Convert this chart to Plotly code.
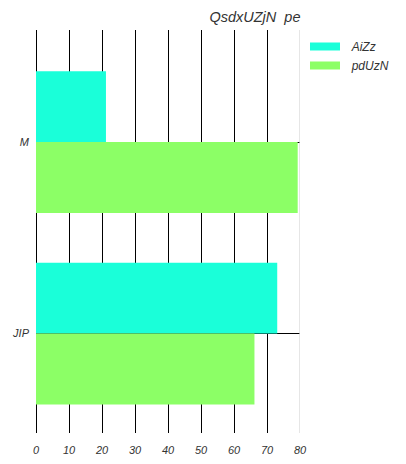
import plotly.graph_objects as go

categories = ["M", "JIP"]
series_names = ["AiZz", "pdUzN"]
aizz_values = [21.2, 73.1]
pduzn_values = [79.3, 66.2]
colors = ["#1affd9", "#8cff66"]
x_ticks = [0, 10, 20, 30, 40, 50, 60, 70, 80]
title_text = "QsdxUZjN\u00a0\u00a0pe"

font_family = "Liberation Sans, Arial, sans-serif"

fig = go.Figure()
for name, vals, col in zip(series_names, [aizz_values, pduzn_values], colors):
    fig.add_trace(go.Bar(
        y=categories, x=vals, name=name, orientation="h",
        marker=dict(color=col, line=dict(width=0)),
        showlegend=False,
    ))
# legend swatches
for name, col in zip(series_names, colors):
    fig.add_trace(go.Scatter(
        x=[None], y=[None], mode="lines", name="\u00a0\u00a0" + name,
        line=dict(color=col, width=8),
    ))

fig.update_layout(
    width=406, height=464,
    margin=dict(l=36, r=105.5, t=30, b=30.5, autoexpand=False),
    paper_bgcolor="white", plot_bgcolor="white",
    barmode="group", bargap=0.26, bargroupgap=0,
    font=dict(family=font_family, size=11, color="#333333", style="italic"),
    title=dict(text=title_text, x=300.5 / 406, xanchor="right", xref="container",
               y=1 - 17 / 464, yanchor="middle", yref="container",
               font=dict(size=14.5, color="#333333", style="italic", family=font_family)),
    legend=dict(x=1 + 5 / 264.5, xanchor="left", xref="paper", y=1 - 2 / 404, yanchor="top",
                font=dict(size=12, color="#333333", style="italic"),
                itemwidth=30, tracegroupgap=0, bgcolor="rgba(0,0,0,0)"),
    xaxis=dict(range=[0, 80], tickvals=x_ticks, showgrid=True, gridcolor="black",
               gridwidth=1.3, zeroline=True, zerolinecolor="black", zerolinewidth=1.3,
               showline=False, ticks="", automargin=False,
               ticklabelstandoff=9, fixedrange=True),
    yaxis=dict(categoryorder="array", categoryarray=categories,
               range=[1.5187, -0.5848], showgrid=True, gridcolor="black",
               gridwidth=1, zeroline=False, showline=False, ticks="",
               automargin=False, ticklabelstandoff=6),
    shapes=[dict(type="line", xref="x", yref="paper", x0=80, x1=80, y0=0, y1=1,
                 line=dict(color="#d9d9d9", width=1.3), layer="above")],
)

fig.write_html("out.html")
